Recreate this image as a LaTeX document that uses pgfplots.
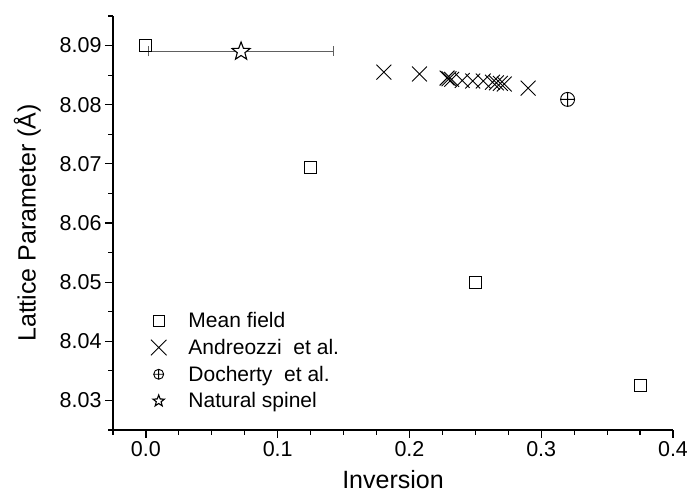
\documentclass[border=0pt]{standalone}
\usepackage{pgfplots}
\pgfplotsset{compat=1.18}
\usepackage{fontspec}
\setmainfont{Liberation Sans}
\usetikzlibrary{plotmarks}
\pgfdeclareplotmark{ostar}{%
  \pgfpathmoveto{\pgfpointpolar{90}{\pgfplotmarksize}}%
  \pgfpathlineto{\pgfpointpolar{126}{0.42\pgfplotmarksize}}%
  \pgfpathlineto{\pgfpointpolar{162}{\pgfplotmarksize}}%
  \pgfpathlineto{\pgfpointpolar{198}{0.42\pgfplotmarksize}}%
  \pgfpathlineto{\pgfpointpolar{234}{\pgfplotmarksize}}%
  \pgfpathlineto{\pgfpointpolar{270}{0.42\pgfplotmarksize}}%
  \pgfpathlineto{\pgfpointpolar{306}{\pgfplotmarksize}}%
  \pgfpathlineto{\pgfpointpolar{342}{0.42\pgfplotmarksize}}%
  \pgfpathlineto{\pgfpointpolar{18}{\pgfplotmarksize}}%
  \pgfpathlineto{\pgfpointpolar{54}{0.42\pgfplotmarksize}}%
  \pgfpathclose
  \pgfusepathqfillstroke}
\begin{document}
\begin{tikzpicture}
\path[use as bounding box] (-113pt,-65pt) rectangle (574pt,430pt);
\begin{axis}[
  at={(0pt,0pt)}, anchor=south west,
  scale only axis, width=560pt, height=414pt,
  xmin=-0.025, xmax=0.4, ymin=8.025, ymax=8.095,
  axis x line*=bottom, axis y line*=left,
  axis line style={line width=1.3pt, -},
  tick align=outside,
  xtick={0,0.1,0.2,0.3,0.4},
  ytick={8.03,8.04,8.05,8.06,8.07,8.08,8.09},
  minor xtick={-0.025,0.025,0.05,0.075,0.125,0.15,0.175,0.225,0.25,0.275,0.325,0.35,0.375},
  minor ytick={8.025,8.035,8.045,8.055,8.065,8.075,8.085,8.095},
  major tick length=8pt, minor tick length=4.5pt,
  every tick/.style={black, line width=1.2pt},
  /pgf/number format/assume math mode=true,
  xticklabel style={/pgf/number format/.cd, fixed, fixed zerofill, precision=1},
  yticklabel style={/pgf/number format/.cd, fixed, fixed zerofill, precision=2},
  tick label style={font=\fontsize{21.5}{24}\selectfont},
  label style={font=\fontsize{25}{28}\selectfont},
  xlabel={Inversion},
  ylabel={Lattice Parameter (Å)},
  xlabel style={yshift=-7pt},
  ylabel style={yshift=12pt},
  legend style={at={(rel axis cs:0.062,0.294)}, anchor=north west, draw=none, fill=none,
    font=\fontsize{21}{24}\selectfont, row sep=6pt},
  legend cell align=left,
  /tikz/every odd column/.append style={column sep=20pt},
]
\addplot[only marks, mark=square, mark size=6pt, black, mark options={line width=0.9pt},
  legend image post style={mark size=5.5pt}]
  coordinates {(0,8.0901) (0.125,8.0694) (0.25,8.0499) (0.375,8.0325)};
\addlegendentry{Mean field}
\addplot[only marks, mark=x, mark size=10.5pt, black, mark options={line width=0.9pt},
  legend image post style={mark size=11pt}]
  coordinates {(0.1806,8.0855) (0.2076,8.0852) (0.2285,8.0845) (0.2300,8.0844) (0.2320,8.0843)
    (0.2400,8.0841) (0.2480,8.0840) (0.2560,8.0840) (0.2630,8.0838) (0.2660,8.0837)
    (0.2690,8.0836) (0.2720,8.0835) (0.2900,8.0828)};
\addlegendentry{Andreozzi\ \ et al.}
\addplot[only marks, mark=oplus, mark size=7pt, black, mark options={line width=0.9pt},
  legend image post style={mark size=5pt}]
  coordinates {(0.320,8.0809)};
\addlegendentry{Docherty\ \ et al.}
\addplot[only marks, mark=ostar, mark size=9.5pt, black, mark options={line width=1.1pt, fill=white},
  legend image post style={mark size=6pt},
  error bars/.cd, x dir=both, x explicit,
  error bar style={gray!75!black, line width=1.3pt},
  error mark options={rotate=90, mark size=5pt, gray!75!black, line width=1.3pt}]
  coordinates {(0.0722,8.0890) +- (0.0702,0)};
\addlegendentry{Natural spinel}
\end{axis}
\end{tikzpicture}
\end{document}
